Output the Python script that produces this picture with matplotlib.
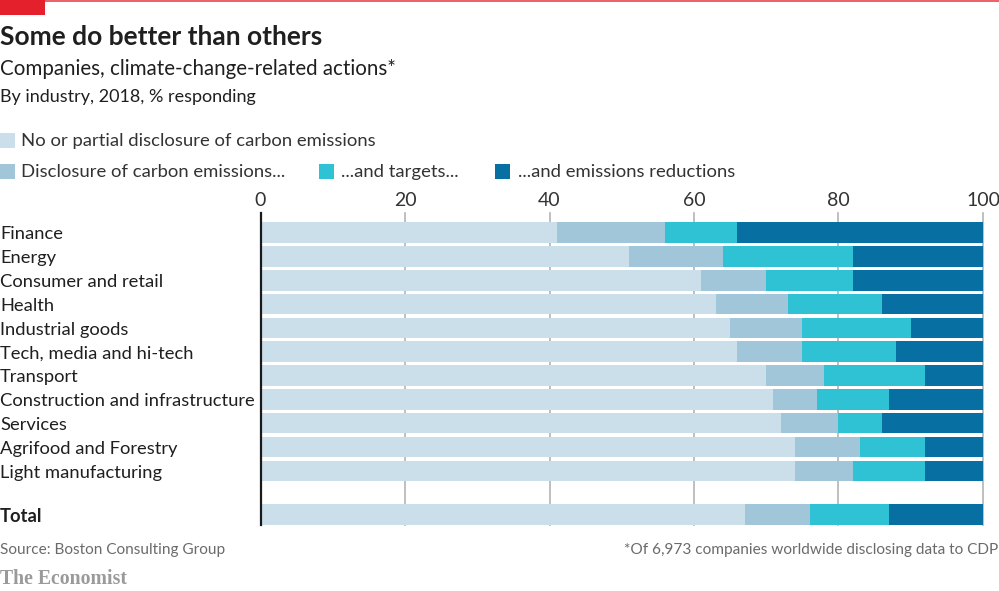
# -*- coding: utf-8 -*-
import matplotlib
matplotlib.use('Agg')
import matplotlib.pyplot as plt
import matplotlib.patches as mpatches
import numpy as np

plt.rcParams['font.family'] = ['Lato', 'DejaVu Sans']

W, H = 999, 591

industries = ['Finance', 'Energy', 'Consumer and retail', 'Health', 'Industrial goods',
              'Tech, media and hi-tech', 'Transport', 'Construction and infrastructure',
              'Services', 'Agrifood and Forestry', 'Light manufacturing', 'Total']
no_disclosure = [41, 51, 61, 63, 65, 66, 70, 71, 72, 74, 74, 67]
disclosure = [15, 13, 9, 10, 10, 9, 8, 6, 8, 9, 8, 9]
targets = [10, 18, 12, 13, 15, 13, 14, 10, 6, 9, 10, 11]
reductions = [34, 18, 18, 14, 10, 12, 8, 13, 14, 8, 8, 13]

series_labels = ['No or partial disclosure of carbon emissions', 'Disclosure of carbon emissions...',
                 '...and targets...', '...and emissions reductions']
colours = ['#cbdfea', '#a1c6d9', '#2fc1d4', '#076fa2']
xticks = [0, 20, 40, 60, 80, 100]

text_dark = '#1f1f1f'
text_grey = '#6b6b6b'


def fx(px):
    return px / W


def fy(py):
    return 1 - py / H


fig = plt.figure(figsize=(W / 100, H / 100), dpi=100, facecolor='white')

# red rule and tag
fig.add_artist(mpatches.Rectangle((0, fy(2)), 1, 2 / H, transform=fig.transFigure, color='#f0626b', lw=0))
fig.add_artist(mpatches.Rectangle((0, fy(15)), fx(45), 15 / H, transform=fig.transFigure, color='#e3202b', lw=0))

# headings
fig.text(0, fy(37), 'Some do better than others', fontsize=19, fontweight='bold', color=text_dark, va='center')
fig.text(0, fy(69), 'Companies, climate-change-related actions*', fontsize=14.8, color=text_dark, va='center')
fig.text(0, fy(97), 'By industry, 2018, % responding', fontsize=12.95, color=text_dark, va='center')

# legend
legend_items = [(0, 140, 21), (0, 171, 21), (319, 171, 341), (495, 171, 518)]
for i, (bx, by, tx) in enumerate(legend_items):
    fig.add_artist(mpatches.Rectangle((fx(bx), fy(by + 7.5)), 15 / W, 15 / H, transform=fig.transFigure,
                                      color=colours[i], lw=0))
    fig.text(fx(tx), fy(by + 1), series_labels[i], fontsize=13.3, color='#333333', va='center')

# chart, lines start a little below the tick labels
ax = fig.add_axes([fx(260.5), fy(525), (983 - 260.5) / W, (525 - 213) / H])
pitch = 23.81
ypos = np.arange(len(industries), dtype=float)
ypos[-1] = 11.83
left = np.zeros(len(industries))
for vals, col in zip([no_disclosure, disclosure, targets, reductions], colours):
    ax.barh(ypos, vals, left=left, height=20.6 / pitch, color=col, zorder=3, lw=0)
    left += np.array(vals)

ax.set_xlim(0, 100)
ax.set_ylim(12.276, -0.827)
for x in xticks[1:]:
    ax.axvline(x, color='#b4b4b4', lw=1.2, zorder=1, clip_on=False)
ax.axvline(0, color='#1a1a1a', lw=1.6, zorder=5, clip_on=False)
for s in ax.spines.values():
    s.set_visible(False)
ax.xaxis.tick_top()
ax.set_xticks(xticks)
ax.tick_params(axis='x', length=0, pad=2.8, labelsize=14, labelcolor='#333333')
ax.set_yticks([])
ax.patch.set_alpha(0)

# row labels
for lab, y in zip(industries, ypos):
    bold = lab == 'Total'
    fig.text(0, fy(234.5 + pitch * y), lab, fontsize=13.2, color=text_dark, va='center',
             fontweight='bold' if bold else 'normal')

# footer
fig.text(0, fy(550), 'Source: Boston Consulting Group', fontsize=11.1, color=text_grey, va='center')
fig.text(fx(998), fy(550), '*Of 6,973 companies worldwide disclosing data to CDP', fontsize=11.05,
         color=text_grey, va='center', ha='right')
fig.text(0, fy(579), 'The Economist', fontsize=14.2, color='#9a9a9a', va='center', family='Liberation Serif',
         fontweight='bold')

fig.savefig('out.png', dpi=100, facecolor='white')
